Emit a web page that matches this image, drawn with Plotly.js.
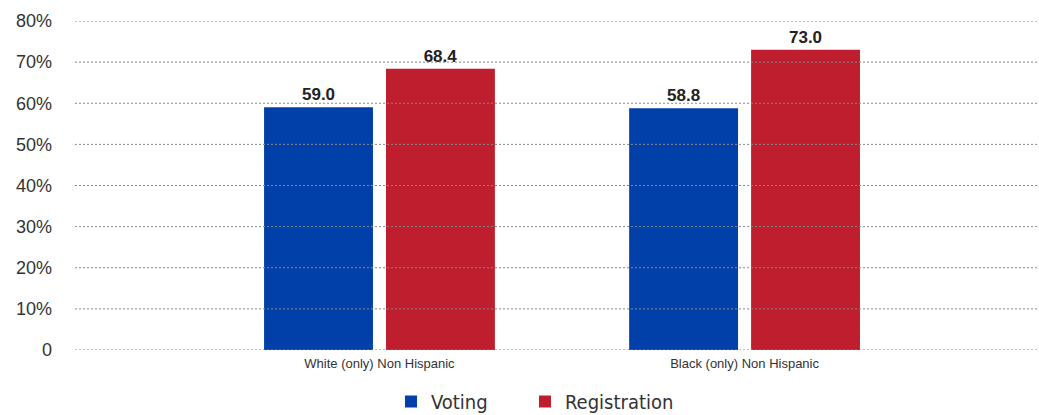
<!DOCTYPE html>
<html><head><meta charset="utf-8">
<script src="https://cdn.plot.ly/plotly-3.0.1.min.js"></script>
<style>html,body{margin:0;padding:0;background:#fff;overflow:hidden}#chart{width:1039px;height:421px}</style>
</head><body><div id="chart"></div>
<script>
const categories = ["White (only) Non Hispanic", "Black (only) Non Hispanic"];
const voting = [59.0, 58.8];
const registration = [68.4, 73.0];
const yTickVals = [0, 10, 20, 30, 40, 50, 60, 70, 80];
const yTickText = ["0", "10%", "20%", "30%", "40%", "50%", "60%", "70%", "80%"];

const labelFont = {family: "Liberation Sans, Arial, sans-serif", size: 17, color: "#222", weight: "bold"};
const traces = [
  {type: "bar", name: "Voting", x: categories, y: voting, marker: {color: "#0040A8"}, legend: "legend",
   text: voting.map(v => "<b>" + v.toFixed(1) + "</b>"), textposition: "outside", textfont: labelFont, cliponaxis: false, hoverinfo: "none"},
  {type: "bar", name: "Registration", x: categories, y: registration, marker: {color: "#BE1E2D"}, legend: "legend2",
   text: registration.map(v => "<b>" + v.toFixed(1) + "</b>"), textposition: "outside", textfont: labelFont, cliponaxis: false, hoverinfo: "none"}
];

const shapes = yTickVals.map(v => ({type: "line", xref: "paper", x0: 0, x1: 1, yref: "y", y0: v, y1: v,
  layer: "above", line: {color: "#888", width: 1, dash: "2px,2px"}}));

const legendFont = {family: "DejaVu Sans Condensed, DejaVu Sans, sans-serif", size: 20, color: "#333"};
const layout = {
  width: 1039, height: 421,
  margin: {l: 75, r: 2, t: 21, b: 71},
  paper_bgcolor: "#fff", plot_bgcolor: "#fff",
  barmode: "group", bargap: 0.332, bargroupgap: 0.107,
  showlegend: true,
  legend: {orientation: "h", x: 0.3763, xanchor: "left", xref: "container", y: 0, yanchor: "bottom", yref: "container",
    font: legendFont, itemwidth: 30},
  legend2: {orientation: "h", x: 0.5053, xanchor: "left", xref: "container", y: 0, yanchor: "bottom", yref: "container",
    font: legendFont, itemwidth: 30},
  font: {family: "Liberation Sans, Arial, sans-serif", color: "#333"},
  xaxis: {range: [-0.834, 1.801], showgrid: false, zeroline: false, showline: false, ticks: "",
    ticklabelstandoff: 4, tickfont: {size: 13, color: "#333"}, fixedrange: true},
  yaxis: {range: [0, 80], tickvals: yTickVals, ticktext: yTickText, showgrid: false, zeroline: false,
    showline: false, ticks: "", ticklabelstandoff: 22, tickfont: {size: 18, color: "#333"}, fixedrange: true},
  shapes: shapes
};
Plotly.newPlot("chart", traces, layout, {displayModeBar: false, staticPlot: true});
</script></body></html>
